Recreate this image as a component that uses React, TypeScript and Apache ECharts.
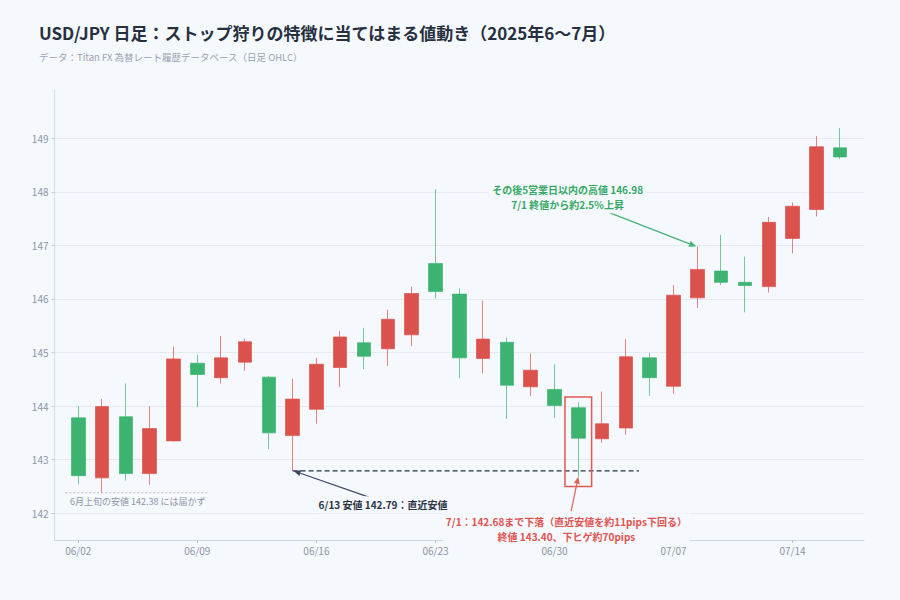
import { useEffect, useRef } from 'react'
import * as echarts from 'echarts'

// 日足 OHLC（2025/06/02〜07/16）
const dates = [
  '06/02', '06/03', '06/04', '06/05', '06/06',
  '06/09', '06/10', '06/11', '06/12', '06/13',
  '06/16', '06/17', '06/18', '06/19', '06/20',
  '06/23', '06/24', '06/25', '06/26', '06/27',
  '06/30', '07/01', '07/02', '07/03', '07/04',
  '07/07', '07/08', '07/09', '07/10', '07/11',
  '07/14', '07/15', '07/16',
]
const opens = [
  143.78, 142.66, 143.80, 142.74, 143.35,
  144.80, 144.53, 144.82, 144.54, 143.45,
  143.94, 144.72, 145.18, 145.07, 145.33,
  146.66, 146.09, 144.89, 145.19, 144.36,
  144.31, 143.97, 143.39, 143.59, 144.90,
  144.37, 146.02, 146.52, 146.31, 146.23,
  147.13, 147.67, 148.82,
]
const closes = [
  142.70, 143.99, 142.74, 143.58, 144.88,
  144.59, 144.90, 145.20, 143.50, 144.13,
  144.78, 145.29, 144.93, 145.62, 146.10,
  146.14, 144.90, 145.25, 144.39, 144.67,
  144.01, 143.40, 143.67, 144.92, 144.53,
  146.07, 146.55, 146.31, 146.25, 147.43,
  147.73, 148.84, 148.65,
]
const lows = [
  142.54, 142.38, 142.61, 142.53, 143.34,
  143.98, 144.42, 144.66, 143.20, 142.79,
  143.67, 144.35, 144.69, 144.75, 145.12,
  146.01, 144.52, 144.61, 143.76, 144.19,
  143.78, 142.68, 143.32, 143.47, 144.19,
  144.23, 145.83, 146.26, 145.75, 146.12,
  146.85, 147.54, 148.61,
]
const highs = [
  144.00, 144.13, 144.42, 144.00, 145.11,
  144.96, 145.31, 145.26, 144.56, 144.51,
  144.90, 145.40, 145.46, 145.80, 146.23,
  148.05, 146.20, 145.97, 145.28, 144.98,
  144.78, 144.07, 144.27, 145.25, 144.99,
  146.26, 146.98, 147.20, 146.79, 147.53,
  147.80, 149.04, 149.19,
]
const xTickLabels = ['06/02', '06/09', '06/16', '06/23', '06/30', '07/07', '07/14']
const yMin = 141.5
const yMax = 149.9

const FONT = '"Noto Sans CJK JP", "Noto Sans", sans-serif'
const BG = '#f5f8fc'
const UP = '#db524d'
const DOWN = '#3cb371'
const NAVY = '#2b3548'
const RED_TXT = '#e0534f'
const GREEN_TXT = '#35a866'
const AXIS_TXT = '#8c95a6'

// 前後に1本ずつ空きを入れる
const categories = ['', ...dates, '']

function arrow(from: number[], to: number[], color: string) {
  const ang = Math.atan2(to[1] - from[1], to[0] - from[0])
  const len = 7
  const half = 3
  const bx = to[0] - len * Math.cos(ang)
  const by = to[1] - len * Math.sin(ang)
  const nx = -Math.sin(ang) * half
  const ny = Math.cos(ang) * half
  return [
    { type: 'line', z: 100, shape: { x1: from[0], y1: from[1], x2: bx, y2: by }, style: { stroke: color, lineWidth: 1.2 } },
    { type: 'polygon', z: 100, shape: { points: [to, [bx + nx, by + ny], [bx - nx, by - ny]] }, style: { fill: color } },
  ]
}

function label(pos: number[], text: string, color: string, size: number, weight: string) {
  return {
    type: 'text',
    z: 101,
    x: pos[0],
    y: pos[1],
    style: {
      text,
      fill: color,
      fontSize: size,
      fontWeight: weight,
      fontFamily: FONT,
      align: 'center',
      verticalAlign: 'middle',
      lineHeight: 15,
      backgroundColor: BG,
      padding: [1, 3],
    },
  }
}

function buildGraphics(chart: echarts.ECharts) {
  // idx: dates の添字（小数可）, v: 価格
  const px = (idx: number, v: number) => {
    const a = chart.convertToPixel({ gridIndex: 0 }, [0, v]) as number[]
    const b = chart.convertToPixel({ gridIndex: 0 }, [1, v]) as number[]
    const step = b[0] - a[0]
    return [a[0] + (idx + 1) * step, a[1]]
  }

  const earlyLow = lows[1]
  const recentLow = lows[9]
  const dipIdx = 21
  const peakIdx = 26

  const g1a = px(-0.55, earlyLow)
  const g1b = px(5.5, earlyLow)
  const n1a = px(9, recentLow)
  const n1b = px(23.55, recentLow)
  const boxTL = px(dipIdx - 0.56, highs[dipIdx] + 0.1)
  const boxBR = px(dipIdx + 0.56, lows[dipIdx] - 0.18)

  return [
    { type: 'line', z: 99, shape: { x1: g1a[0], y1: g1a[1], x2: g1b[0], y2: g1b[1] }, style: { stroke: '#a9b1be', lineWidth: 1, lineDash: [2, 2] } },
    label(px(2.5, 142.21), '6月上旬の安値 142.38 には届かず', '#8d96a7', 9, 'normal'),

    { type: 'line', z: 99, shape: { x1: n1a[0], y1: n1a[1], x2: n1b[0], y2: n1b[1] }, style: { stroke: NAVY, lineWidth: 1.2, lineDash: [5, 3] } },
    ...arrow(px(12.2, 142.3), px(9.05, recentLow), '#3d4862'),
    label(px(12.8, 142.16), '6/13 安値 142.79：直近安値', NAVY, 10, 'bold'),

    {
      type: 'rect', z: 100,
      shape: { x: boxTL[0], y: boxTL[1], width: boxBR[0] - boxTL[0], height: boxBR[1] - boxTL[1] },
      style: { fill: 'none', stroke: '#e05a55', lineWidth: 1.5 },
    },
    ...arrow(px(20.7, 142.04), px(dipIdx, lows[dipIdx]), '#e0605b'),
    label(px(20.5, 141.7), '7/1：142.68まで下落（直近安値を約11pips下回る）\n終値 143.40、下ヒゲ約70pips', RED_TXT, 10, 'bold'),

    label(px(20.55, 147.9), 'その後5営業日以内の高値 146.98\n7/1 終値から約2.5%上昇', GREEN_TXT, 10, 'bold'),
    ...arrow(px(22.3, 147.61), px(peakIdx - 0.05, highs[peakIdx]), '#45b27a'),
  ]
}

export default function App() {
  const chartRef = useRef<HTMLDivElement>(null)

  useEffect(() => {
    document.body.style.margin = '0'
    if (!chartRef.current) return
    const chart = echarts.init(chartRef.current, undefined, { renderer: 'svg' })

    const option: any = {
      animation: false,
      backgroundColor: BG,
      textStyle: { fontFamily: FONT },
      title: {
        text: 'USD/JPY 日足：ストップ狩りの特徴に当てはまる値動き（2025年6〜7月）',
        subtext: 'データ：Titan FX 為替レート履歴データベース（日足 OHLC）',
        left: 34,
        top: 19,
        itemGap: 11,
        textStyle: { fontSize: 17, fontWeight: 'bold', color: '#27303f', fontFamily: FONT },
        subtextStyle: { fontSize: 9.5, color: '#9aa2b1', fontFamily: FONT },
      },
      grid: { left: 54.5, right: 36, top: 90, bottom: 60 },
      xAxis: {
        type: 'category',
        data: categories,
        boundaryGap: false,
        axisLine: { lineStyle: { color: '#d0d7e1' } },
        axisTick: {
          show: true,
          length: 3,
          interval: (_i: number, v: string) => xTickLabels.includes(v),
          lineStyle: { color: '#b9c1cd' },
        },
        axisLabel: {
          interval: (_i: number, v: string) => xTickLabels.includes(v),
          color: AXIS_TXT,
          fontSize: 10,
          margin: 5,
          fontFamily: FONT,
        },
        splitLine: { show: false },
      },
      yAxis: {
        type: 'value',
        min: yMin,
        max: yMax,
        splitNumber: 8,
        axisLine: { show: true, lineStyle: { color: '#d5dbe4' } },
        axisTick: { show: true, length: 3, lineStyle: { color: '#c5ccd6' } },
        axisLabel: {
          showMinLabel: false,
          showMaxLabel: false,
          color: AXIS_TXT,
          fontSize: 10,
          margin: 6,
          fontFamily: FONT,
        },
        splitLine: { showMinLine: false, showMaxLine: false, lineStyle: { color: '#e6eaf0' } },
      },
      series: [
        {
          type: 'candlestick',
          dimensions: ['date', 'open', 'close', 'lowest', 'highest'],
          encode: { x: 0, y: [1, 2, 3, 4] },
          data: dates.map((d, i) => [d, opens[i], closes[i], lows[i], highs[i]]),
          barWidth: 14,
          itemStyle: {
            color: UP,
            color0: DOWN,
            borderColor: 'rgba(219,82,77,0.7)',
            borderColor0: 'rgba(60,179,113,0.7)',
            borderWidth: 1,
          },
        },
      ],
    }

    chart.setOption(option)
    chart.setOption({ graphic: buildGraphics(chart) })

    return () => {
      chart.dispose()
    }
  }, [])

  return <div ref={chartRef} style={{ width: 900, height: 600 }} />
}
